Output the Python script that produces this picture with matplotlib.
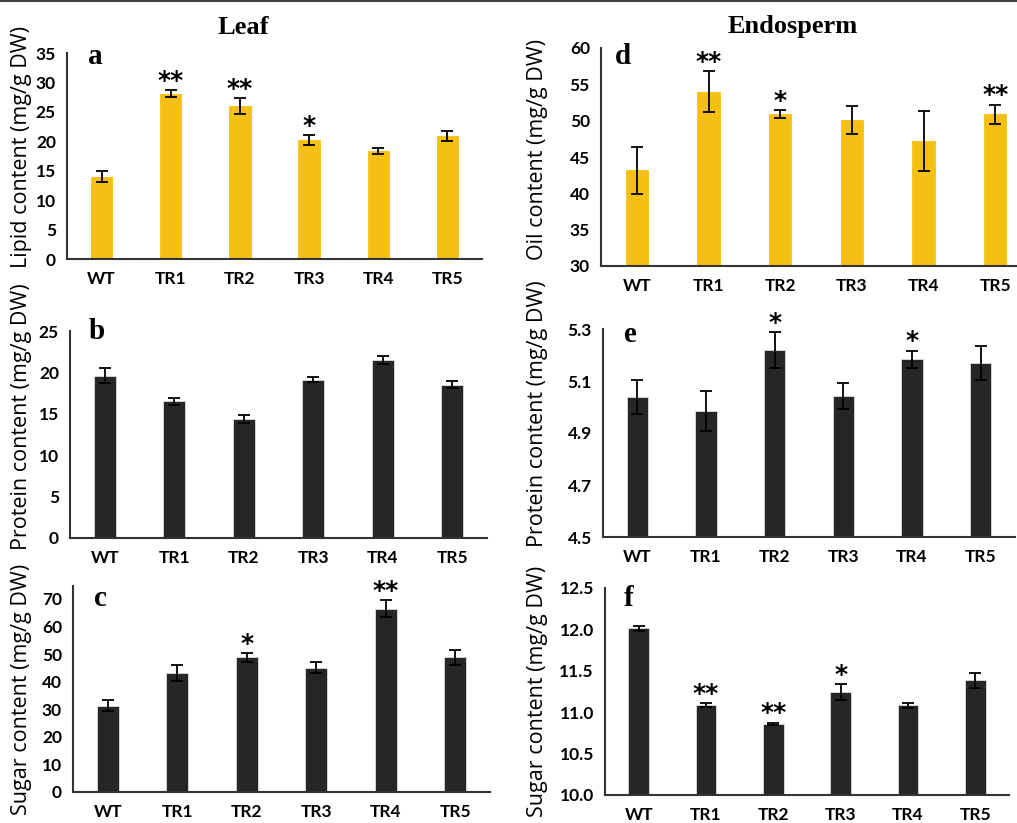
import matplotlib.pyplot as plt
from matplotlib.lines import Line2D

# genotypes on the x axis
genotypes = ["WT", "TR1", "TR2", "TR3", "TR4", "TR5"]

# leaf
lipid_leaf = [14.0, 28.1, 26.0, 20.2, 18.3, 20.9]
lipid_leaf_err = [1.0, 0.65, 1.3, 0.9, 0.5, 0.9]
lipid_leaf_sig = ["", "**", "**", "*", "", ""]

protein_leaf = [19.6, 16.5, 14.4, 19.1, 21.5, 18.5]
protein_leaf_err = [0.92, 0.4, 0.5, 0.3, 0.46, 0.42]
protein_leaf_sig = ["", "", "", "", "", ""]

sugar_leaf = [31.3, 43.3, 48.8, 45.1, 66.5, 48.8]
sugar_leaf_err = [2.05, 2.9, 1.6, 1.9, 3.0, 2.65]
sugar_leaf_sig = ["", "", "*", "", "**", ""]

# endosperm
oil_endo = [43.15, 54.0, 50.9, 50.06, 47.2, 50.9]
oil_endo_err = [3.2, 2.77, 0.6, 1.9, 4.1, 1.3]
oil_endo_sig = ["", "**", "*", "", "", "**"]

protein_endo = [5.039, 4.984, 5.219, 5.042, 5.184, 5.169]
protein_endo_err = [0.065, 0.076, 0.069, 0.049, 0.033, 0.064]
protein_endo_sig = ["", "", "*", "", "*", ""]

sugar_endo = [12.012, 11.089, 10.859, 11.242, 11.081, 11.383]
sugar_endo_err = [0.028, 0.022, 0.016, 0.099, 0.03, 0.085]
sugar_endo_sig = ["", "**", "**", "*", "", ""]

W, H = 1017, 823
YELLOW = "#F5C011"
DARK = "#262626"

fig = plt.figure(figsize=(W / 100, H / 100), dpi=100)


def px_axes(left, right, top, bottom):
    return fig.add_axes([left / W, 1 - bottom / H, (right - left) / W, (bottom - top) / H])


def panel(box, vals, errs, sig, color, ylim, yticks, ytickfmt, ylabel, label_xy, letter, letter_xy):
    ax = px_axes(*box)
    x = range(len(genotypes))
    ax.bar(x, vals, width=0.31, color=color, edgecolor="#dddddd" if color == DARK else color,
           linewidth=0.6, zorder=2)
    ax.errorbar(x, vals, yerr=errs, fmt="none", ecolor="black", elinewidth=1.3,
                capsize=4, capthick=1.3, zorder=3)
    for xi, v, e, s in zip(x, vals, errs, sig):
        if s:
            ax.annotate(s, (xi, v + e), xytext=(0, -2), textcoords="offset points",
                        ha="center", va="bottom", fontsize=18, fontweight="bold",
                        family="DejaVu Sans")
    ax.set_xlim(-0.5, 5.5)
    ax.set_ylim(*ylim)
    ax.set_yticks(yticks)
    ax.set_yticklabels([ytickfmt.format(t) for t in yticks])
    ax.set_xticks(list(x))
    ax.set_xticklabels(genotypes)
    for lab in ax.get_xticklabels() + ax.get_yticklabels():
        lab.set_fontfamily("Lato")
        lab.set_fontweight("bold")
        lab.set_fontsize(12.5)
    ax.tick_params(axis="both", length=0)
    ax.tick_params(axis="x", pad=8.5)
    ax.tick_params(axis="y", pad=8)
    for sp in ["top", "right"]:
        ax.spines[sp].set_visible(False)
    for sp in ["left", "bottom"]:
        ax.spines[sp].set_color("#333333")
        ax.spines[sp].set_linewidth(1.5)
    fig.text(letter_xy[0] / W, 1 - letter_xy[1] / H, letter, fontsize=21, fontweight="bold",
             family="Liberation Serif", ha="center", va="center")
    fig.text(label_xy[0] / W, 1 - label_xy[1] / H, ylabel, rotation=90, ha="center",
             va="center", fontsize=15.5, family="Open Sans")
    return ax


panel((67, 482, 53, 259), lipid_leaf, lipid_leaf_err, lipid_leaf_sig, YELLOW,
      (0, 35), range(0, 36, 5), "{}", "Lipid content (mg/g DW)", (22, 147), "a", (95, 57))
panel((70, 487, 331, 538), protein_leaf, protein_leaf_err, protein_leaf_sig, DARK,
      (0, 25), range(0, 26, 5), "{}", "Protein content (mg/g DW)", (22, 417), "b", (97, 331))
panel((73, 490, 586, 792), sugar_leaf, sugar_leaf_err, sugar_leaf_sig, DARK,
      (0, 74.7), range(0, 71, 10), "{}", "Sugar content (mg/g DW)", (22, 689), "c", (100, 599))

panel((601, 1031, 48, 266), oil_endo, oil_endo_err, oil_endo_sig, YELLOW,
      (30, 60), range(30, 61, 5), "{}", "Oil content (mg/g DW)", (538, 149), "d", (623, 56))
panel((603, 1015, 329, 537), protein_endo, protein_endo_err, protein_endo_sig, DARK,
      (4.5, 5.3), [4.5, 4.7, 4.9, 5.1, 5.3], "{:.1f}", "Protein content (mg/g DW)", (538, 414),
      "e", (630, 334))
panel((605, 1009, 588, 795), sugar_endo, sugar_endo_err, sugar_endo_sig, DARK,
      (10.0, 12.5), [10.0, 10.5, 11.0, 11.5, 12.0, 12.5], "{:.1f}", "Sugar content (mg/g DW)",
      (538, 691), "f", (629, 598))

fig.text(243 / W, 1 - 27 / H, "Leaf", ha="center", va="center", fontsize=19,
         fontweight="bold", family="Liberation Serif")
fig.text(793 / W, 1 - 27 / H, "Endosperm", ha="center", va="center", fontsize=19,
         fontweight="bold", family="Liberation Serif")

fig.add_artist(Line2D([0, 1], [1 - 1 / H, 1 - 1 / H], transform=fig.transFigure,
                      color="#444444", linewidth=1.5))

fig.savefig("out.png", dpi=100)
